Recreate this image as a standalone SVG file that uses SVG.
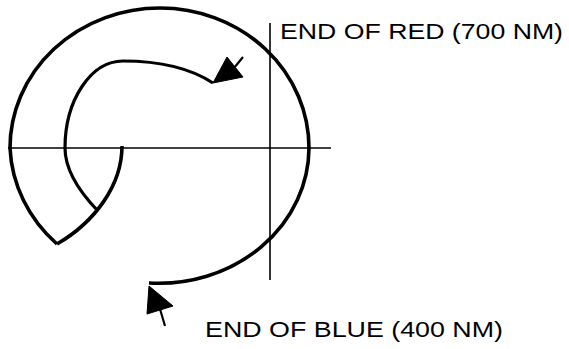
<svg xmlns="http://www.w3.org/2000/svg" width="569" height="349" viewBox="0 0 569 349">
<style>
.axis{stroke:#000;stroke-width:1.6;fill:none}
.curve{stroke:#000;stroke-width:3.6;fill:none;stroke-linejoin:miter;stroke-linecap:butt}
.inner{stroke:#000;stroke-width:3.2;fill:none}
.head{fill:#000;stroke:#000;stroke-width:1}
.shaft{stroke:#000;stroke-width:2.2;fill:none}
.lbl{font-family:"Liberation Sans",Arial,sans-serif;font-size:22px;fill:#000}
</style>
<rect width="569" height="349" fill="#fff"/>
<g id="axes">
<line class="axis" x1="8" y1="148" x2="331" y2="148"/>
<line class="axis" x1="270" y1="23" x2="270" y2="280"/>
</g>
<g id="spiral">
<path class="curve" d="M57,244 A150,140 0 0 1 10,148 A150,140 0 0 1 160,8 A149,140 0 0 1 309,148 A150,136 0 0 1 149,283"/>
<path class="curve" d="M122,146 C122,185 95,222 57,244"/>
<path class="inner" d="M97,210 C78,190 65,170 65,148 C65,100 91,61 123,61 C158,61 190,68 213,83"/>
</g>
<g id="connectors">
<g id="red-arrow">
<polygon class="head" points="213,83 227,57 243,77"/>
<line class="shaft" x1="234" y1="68" x2="243" y2="57"/>
</g>
<g id="blue-arrow">
<polygon class="head" points="149,286 147,314 173,306"/>
<line class="shaft" x1="160" y1="309" x2="165" y2="326"/>
</g>
</g>
<g id="label-red">
<text class="lbl" x="280" y="39" textLength="283" lengthAdjust="spacingAndGlyphs">END OF RED (700 NM)</text>
</g>
<g id="label-blue">
<text class="lbl" x="205" y="337" textLength="298" lengthAdjust="spacingAndGlyphs">END OF BLUE (400 NM)</text>
</g>
</svg>
